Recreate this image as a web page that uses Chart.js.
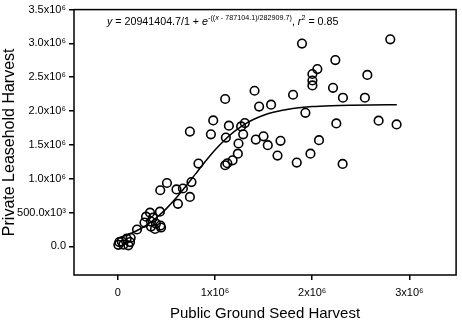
<!DOCTYPE html>
<html><head><meta charset="utf-8">
<script src="https://cdn.jsdelivr.net/npm/chart.js@4.4.1/dist/chart.umd.min.js"></script>
<style>html,body{margin:0;padding:0;background:#fff}#wrap{width:462px;height:325px;position:relative}</style>
</head><body><div id="wrap"><canvas id="c" width="462" height="325"></canvas></div>
<script>
// Observed points (public ground seed harvest, private leasehold harvest)
const seedHarvest = [6,16,41,57,92,109,126,133,198,275,291,332,342,342,362,383,393,434,439,445,437,506,604,619,670,742,758,
  742,830,958,982,1105,1105,1112,1127,1143,1181,1235,1242,1269,1290,1307,1407,1420,1454,1499,1543,1577,1643,1674,
  1803,1841,1895,1930,1982,2002,2002,2002,2053,2070,2214,2238,2248,2313,2316,2542,2567,2683,2803,2868].map(v=>v*1000);
const leaseHarvest = [22,63,73,25,113,15,63,127,249,351,439,497,366,292,424,256,336,512,307,278,829,936,841,629,855,731,950,
  1696,1224,1656,1861,2178,1199,1608,1228,1784,1272,1370,1520,1773,1656,1823,2300,1579,2066,1627,1496,2095,1341,1560,
  2241,1238,2997,1974,1370,2548,2452,2379,2621,1569,2344,2753,1817,1218,2197,2197,2534,1857,3060,1803].map(v=>v*1000);
// Fitted sigmoid curve
const curveX = [30,100,200,300,400,500,600,700,800,900,1000,1100,1200,1300,1400,1500,1600,1800,2000,2200,2400,2600,2870].map(v=>v*1000);
const curveY = [135,169,234,318,426,557,713,887,1071,1253,1424,1573,1699,1801,1879,1938,1982,2037,2066,2080,2087,2091,2093].map(v=>v*1000);
// Axis ticks
const xTickValues = [0,1e6,2e6,3e6];
const xTickLabels = ['0','1x10\u2076','2x10\u2076','3x10\u2076'];
const yTickValues = [0,5e5,1e6,1.5e6,2e6,2.5e6,3e6,3.5e6];
const yTickLabels = ['0.0','500.0x10\u00B3','1.0x10\u2076','1.5x10\u2076','2.0x10\u2076','2.5x10\u2076','3.0x10\u2076','3.5x10\u2076'];
const xTitle = 'Public Ground Seed Harvest';
const yTitle = 'Private Leasehold Harvest';
const equationParts = [
  {t:'y', it:true},{t:' = 20941404.7/1 + '},{t:'e', it:true},
  {t:'-((', sup:true},{t:'x', sup:true, it:true},{t:' - 787104.1)/282909.7)', sup:true},
  {t:', '},{t:'r', it:true},{t:'2', sup:true},{t:' = 0.85'}
];

const FONT = "'Liberation Sans', Arial, Helvetica, sans-serif";
Chart.defaults.font.family = FONT;
Chart.defaults.color = '#000';

const framePlugin = {
  id:'frame',
  afterDatasetsDraw(chart){
    const {ctx, chartArea:a} = chart;
    ctx.save();
    ctx.strokeStyle = '#000'; ctx.lineWidth = 1.5;
    ctx.strokeRect(a.left, a.top, a.right-a.left, a.bottom-a.top);
    ctx.restore();
  },
  afterDraw(chart){
    const ctx = chart.ctx;
    ctx.save();
    ctx.fillStyle = '#000';
    ctx.textBaseline = 'alphabetic';
    let x = 107; const base = 25;
    for (const p of equationParts){
      const size = p.sup ? 7.2 : 10.7;
      ctx.font = (p.it ? 'italic ' : '') + size + 'px ' + FONT;
      ctx.fillText(p.t, x, p.sup ? base-5.5 : base);
      x += ctx.measureText(p.t).width;
    }
    ctx.restore();
  }
};

const scatterData = seedHarvest.map((v,i)=>({x:v, y:leaseHarvest[i]}));
const curveData = curveX.map((v,i)=>({x:v, y:curveY[i]}));

new Chart(document.getElementById('c'), {
  type:'scatter',
  data:{datasets:[
    {label:'fit', data:curveData, showLine:true, pointRadius:0, borderColor:'#000', borderWidth:1.5,
     cubicInterpolationMode:'monotone', fill:false, order:2},
    {label:'obs', data:scatterData, pointRadius:4.3, pointHoverRadius:4.3, pointBorderWidth:1.6,
     pointBorderColor:'#000', pointBackgroundColor:'rgba(0,0,0,0)', borderColor:'#000', order:1}
  ]},
  options:{
    responsive:false, animation:false, devicePixelRatio:1,
    layout:{padding:{top:7, right:4, left:0, bottom:0}},
    plugins:{legend:{display:false}, tooltip:{enabled:false}},
    scales:{
      x:{type:'linear', min:-450000, max:3480000,
        afterBuildTicks(s){ s.ticks = xTickValues.map(v=>({value:v})); },
        afterFit(s){ s.height = 50; },
        ticks:{font:{size:11}, color:'#000', padding:6, maxRotation:0,
          callback:(v)=>{const i=xTickValues.indexOf(v); return i>=0?xTickLabels[i]:'';}},
        grid:{display:true, drawOnChartArea:false, drawTicks:true, tickLength:5, color:'#000', lineWidth:1.5},
        border:{display:false},
        title:{display:true, text:xTitle, font:{size:15}, color:'#000', padding:{top:0,bottom:2}}
      },
      y:{type:'linear', min:-424000, max:3500000,
        afterBuildTicks(s){ s.ticks = yTickValues.map(v=>({value:v})); },
        afterFit(s){ s.width = 74; },
        ticks:{font:{size:11}, color:'#000', padding:3,
          callback:(v)=>{const i=yTickValues.indexOf(v); return i>=0?yTickLabels[i]:'';}},
        grid:{display:true, drawOnChartArea:false, drawTicks:true, tickLength:5, color:'#000', lineWidth:1.5},
        border:{display:false},
        title:{display:true, text:yTitle, font:{size:16}, color:'#000', padding:{top:0,bottom:0}}
      }
    }
  },
  plugins:[framePlugin]
});
</script></body></html>
